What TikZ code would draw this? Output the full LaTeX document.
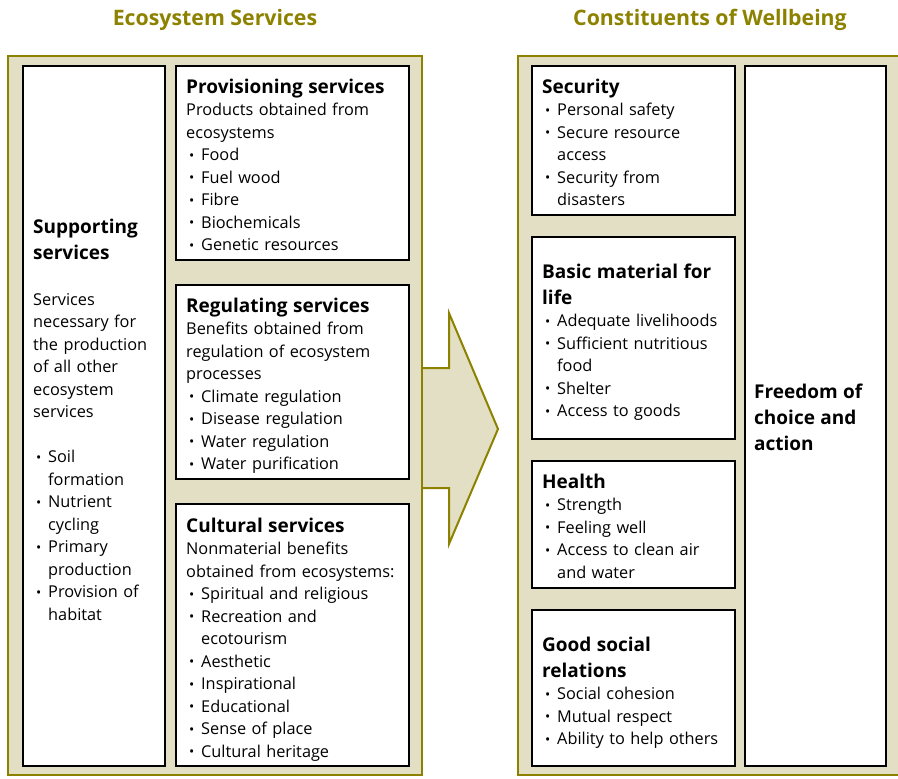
\documentclass[tikz,border=0pt]{standalone}
\usepackage{fontspec}
\setmainfont{Open Sans}
\definecolor{olivec}{RGB}{140,130,0}
\definecolor{beigec}{RGB}{227,223,196}
\newcommand\bodyfont{\fontsize{16.3}{22.5}\selectfont}
\newcommand\nl{\hfil\break}
\newcommand\hd[1]{{\fontsize{19}{26}\selectfont\bfseries\rule{0pt}{15pt}#1\par}}
\newcommand\bi[1]{\par\hangindent=15pt\hangafter=1\noindent\makebox[15pt][l]{\hspace{3pt}\raisebox{0.5pt}{\scalebox{0.85}{\textbullet}}}#1}
\newcommand\pl[1]{\par\noindent #1}
\begin{document}
\begin{tikzpicture}[x=1pt,y=-1pt,
  outer/.style={draw=olivec,line width=2pt,fill=beigec},
  box/.style={draw=black,line width=2pt,fill=white},
  txt/.style={anchor=north west,inner sep=0pt,text width=#1,align=left,font=\bodyfont},
  title/.style={text=olivec,font=\fontsize{21.3}{24}\selectfont\bfseries}]
\useasboundingbox (0,0) rectangle (898,779);
\clip (0,0) rectangle (898,779);
% titles
\node[title] (t1) at (215,19.5) {Ecosystem Services};
\node[title] (t2) at (710,19.5) {Constituents of Wellbeing};
% outer frames
\draw[outer] (8,56) rectangle (422,775);
\draw[outer] (518,56) rectangle (906,775);
% arrow
\fill[beigec] (423,368) -- (449,368) -- (449,313) -- (498,429) -- (449,544) -- (449,488) -- (423,488) -- cycle;
\draw[olivec,line width=2pt,line join=miter] (422,368) -- (449,368) -- (449,313) -- (498,429) -- (449,544) -- (449,488) -- (422,488);
% left boxes
\draw[box] (23,66) rectangle (165,766);
\draw[box] (176,66) rectangle (409,260);
\draw[box] (176,285) rectangle (409,479);
\draw[box] (176,504) rectangle (409,766);
% right boxes
\draw[box] (532,66) rectangle (735,215);
\draw[box] (532,237) rectangle (735,439);
\draw[box] (532,461) rectangle (735,588);
\draw[box] (532,610) rectangle (735,766);
\draw[box] (745,66) rectangle (886,766);
% texts
\node[txt=140pt] (sup) at (33,218) {\hd{Supporting\nl services}\vspace{23.5pt}
\pl{Services\nl necessary for\nl the production\nl of all other\nl ecosystem\nl services}\par\vspace{22.5pt}
\bi{Soil\nl formation}\bi{Nutrient\nl cycling}\bi{Primary\nl production}\bi{Provision of\nl habitat}\par};
\node[txt=240pt] (prov) at (186,78) {\hd{Provisioning services}
\pl{Products obtained from\nl ecosystems}\bi{Food}\bi{Fuel wood}\bi{Fibre}\bi{Biochemicals}\bi{Genetic resources}\par};
\node[txt=240pt] (reg) at (186,297) {\hd{Regulating services}
\pl{Benefits obtained from\nl regulation of ecosystem\nl processes}\bi{Climate regulation}\bi{Disease regulation}\bi{Water regulation}\bi{Water purification}\par};
\node[txt=240pt] (cul) at (186,517) {\hd{Cultural services}
\pl{Nonmaterial benefits\nl obtained from ecosystems:}\bi{Spiritual and religious}\bi{Recreation and\nl ecotourism}\bi{Aesthetic}\bi{Inspirational}\bi{Educational}\bi{Sense of place}\bi{Cultural heritage}\par};
\node[txt=210pt] (sec) at (542,78) {\hd{Security}
\bi{Personal safety}\bi{Secure resource\nl access}\bi{Security from\nl disasters}\par};
\node[txt=210pt] (bas) at (542,263) {\hd{Basic material for\nl life}
\bi{Adequate livelihoods}\bi{Sufficient nutritious\nl food}\bi{Shelter}\bi{Access to goods}\par};
\node[txt=210pt] (hea) at (542,473) {\hd{Health}
\bi{Strength}\bi{Feeling well}\bi{Access to clean air\nl and water}\par};
\node[txt=210pt] (soc) at (542,636) {\hd{Good social\nl relations}
\bi{Social cohesion}\bi{Mutual respect}\bi{Ability to help others}\par};
\node[txt=140pt] (fre) at (754,383) {\hd{Freedom of\nl choice and\nl action}};
\end{tikzpicture}
\end{document}
